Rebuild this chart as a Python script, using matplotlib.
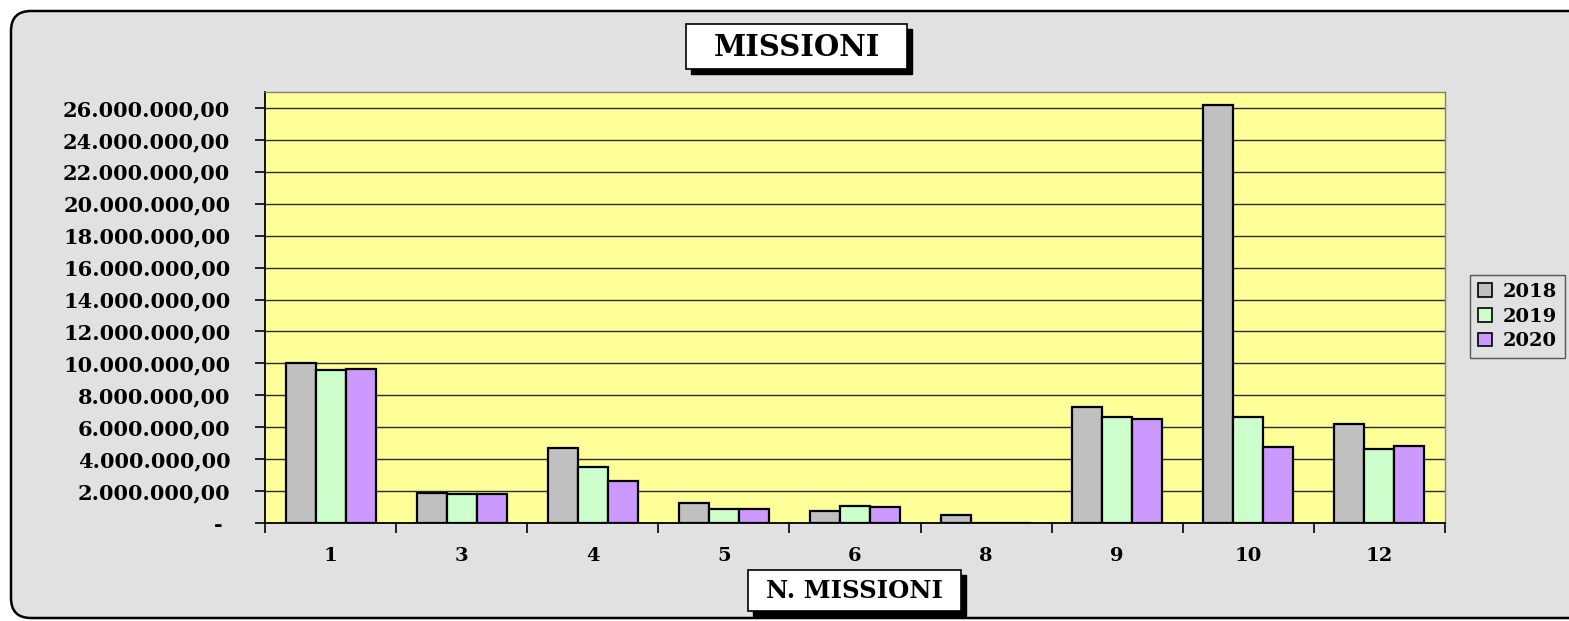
import numpy as np
import matplotlib.pyplot as plt
from matplotlib.patches import FancyBboxPatch, Rectangle
from matplotlib.ticker import FuncFormatter, MultipleLocator

# data (euro)
categories = ["1", "3", "4", "5", "6", "8", "9", "10", "12"]
years = ["2018", "2019", "2020"]
v2018 = [10040000, 1880000, 4700000, 1250000, 750000, 500000, 7260000, 26200000, 6220000]
v2019 = [9560000, 1800000, 3530000, 900000, 1050000, 0, 6660000, 6660000, 4610000]
v2020 = [9640000, 1800000, 2630000, 900000, 1000000, 0, 6510000, 4740000, 4820000]
colors = ["#c0c0c0", "#ccffcc", "#cc99ff"]

W, H = 1569, 621
fig = plt.figure(figsize=(W / 100, H / 100), dpi=100, facecolor="white")
serif = "DejaVu Serif"

# background layer in pixel units
bg = fig.add_axes([0, 0, 1, 1], zorder=0)
bg.set_xlim(0, W)
bg.set_ylim(H, 0)
bg.axis("off")
bg.add_patch(FancyBboxPatch((11, 11), W + 40, 607,
                            boxstyle="round,pad=0,rounding_size=20",
                            facecolor="#e1e1e1", edgecolor="black", lw=1.8))

ax = fig.add_axes([265 / W, 1 - 523 / H, 1180 / W, 431 / H], zorder=2)
ax.set_facecolor("#ffff99")

x = np.arange(len(categories))
bw = 0.229
for i, (vals, c, lab) in enumerate(zip([v2018, v2019, v2020], colors, years)):
    ax.bar(x + (i - 1) * bw, vals, width=bw, color=c, edgecolor="black",
           linewidth=1.6, label=lab, zorder=3)

ax.set_xlim(-0.5, len(categories) - 0.5)
ax.set_ylim(0, 27000000)
ax.yaxis.set_major_locator(MultipleLocator(2000000))


def fmt(v, pos):
    if v == 0:
        return "- "
    s = f"{int(round(v)):,}".replace(",", ".")
    return s + ",00"


ax.yaxis.set_major_formatter(FuncFormatter(fmt))
ax.grid(axis="y", color="#2b2b2b", lw=1.0, zorder=1)
ax.set_axisbelow(True)

ax.set_xticks(x)
ax.set_xticklabels(categories)
ax.set_xticks(np.arange(-0.5, len(categories)), minor=True)
ax.tick_params(axis="x", which="major", length=0, pad=17)
ax.tick_params(axis="x", which="minor", length=7, width=1.2, direction="out")
ax.tick_params(axis="y", length=7, width=1.2, direction="out", pad=18)
for lbl in ax.get_xticklabels() + ax.get_yticklabels():
    lbl.set_fontfamily(serif)
    lbl.set_fontweight("bold")
    lbl.set_fontsize(15)
for lbl in ax.get_xticklabels():
    lbl.set_fontsize(14)

for side in ["left", "bottom"]:
    ax.spines[side].set_color("black")
    ax.spines[side].set_linewidth(1.3)
for side in ["top", "right"]:
    ax.spines[side].set_color("#808080")
    ax.spines[side].set_linewidth(1.0)


def boxed(x0, y0, w, h, text, size):
    bg.add_patch(Rectangle((x0 + 5, y0 + 5), w, h, fc="black", ec="black", zorder=4))
    bg.add_patch(Rectangle((x0, y0), w, h, fc="white", ec="black", lw=1.2, zorder=5))
    bg.text(x0 + w / 2, y0 + h / 2 + 1, text, ha="center", va="center", fontsize=size,
            fontfamily=serif, fontweight="bold", color="black", zorder=6)


boxed(686, 24, 221, 45, "MISSIONI", 21)
boxed(748, 570, 213, 41, "N. MISSIONI", 17.5)

leg = fig.legend(loc="upper left", bbox_to_anchor=(1470 / W, 1 - 275 / H),
                 borderaxespad=0, frameon=True, fancybox=False,
                 edgecolor="#333333", facecolor="none", handlelength=0.75,
                 handleheight=0.7, handletextpad=0.55, labelspacing=0.35,
                 borderpad=0.4, prop=dict(family=serif, weight="bold", size=14))
for h in leg.legend_handles:
    h.set_linewidth(1.2)

fig.savefig("out.png", dpi=100, facecolor=fig.get_facecolor())
